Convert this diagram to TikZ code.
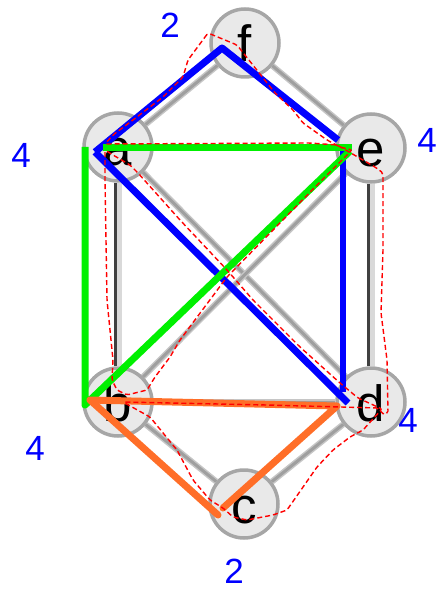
\documentclass[tikz,border=0pt]{standalone}
\usepackage{fontspec}
\setmainfont{Liberation Sans}
\usetikzlibrary{backgrounds}
\definecolor{myorange}{RGB}{255,110,40}
\definecolor{mygreen}{RGB}{0,240,0}
\begin{document}
\begin{tikzpicture}[x=1pt,y=-1pt,
  vtx/.style={circle,draw=gray!70,line width=3.5pt,fill=gray!17,minimum size=68pt,inner sep=0pt,
    text height=38pt,text depth=0pt,font=\fontsize{51}{51}\selectfont},
  edge/.style={draw=gray!45,line width=6pt,postaction={draw=gray!75,line width=3pt}},
  vdark/.style={draw=black!75,line width=3pt},
  vlight/.style={draw=gray!30,line width=5pt},
  deg/.style={text=blue,inner sep=0pt,font=\fontsize{35}{35}\selectfont},
  route/.style={line width=7pt,line join=round},
  tour/.style={red,line width=1.4pt,dash pattern=on 5pt off 3pt,rounded corners=2pt}]
\useasboundingbox (0,0) rectangle (443,593);
% graph
\node[vtx] (f) at (245,43) {f};\node[vtx] (a) at (118,147) {a};\node[vtx] (e) at (371,148) {e};
\node[vtx] (b) at (118,402) {b};\node[vtx] (d) at (371,402) {d};\node[vtx] (c) at (244,504) {c};
\begin{scope}[on background layer]
\foreach \u/\v in {f/a,f/e,a/e,a/d,e/b,b/d,b/c,c/d}{\draw[edge] (\u)--(\v);}
\foreach \u/\v in {a/b,e/d}{\draw[vlight] ([xshift=1.5pt]\u.south)--([xshift=1.5pt]\v.north);
  \draw[vdark] ([xshift=-3pt]\u.south)--([xshift=-3pt]\v.north);}
\end{scope}
% coloured routes
\coordinate (ba) at (95,152);\coordinate (bf) at (222,48);\coordinate (be) at (338,140);
\draw[route,blue] (ba)--(bf)--(be);\draw[route,blue] (ba)--(348,403);
\draw[route,blue,line width=6pt] (343,148)--(343,392);
\coordinate (ga) at (85,147);\coordinate (gb) at (85,405);\coordinate (ge) at (352,148);
\draw[route,mygreen] (103,148)--(ge);\draw[route,mygreen] (ga)--(gb)--(350,151);
\coordinate (ob) at (90,400);\coordinate (od) at (337,406);
\draw[route,myorange,line cap=round] (218,515)--(ob)--(od)--(223,508);
% tour
\draw[tour] (208,33)--(188,60)--(183,77)--(163,97)--(133,120)--(113,135)--(105,144)--(310,143)--(337,145)
 --(375,167)--(383,173)--(383,250)--(381,313)--(387,360)--(388,413)--(384,415)--(378,408)--(267,405)
 --(123,402)--(150,417)--(177,450)--(193,480)--(210,500)--(223,508)--(233,517)--(247,520)--(273,515)
 --(287,510)--(317,467)--(333,450)--(350,437)--(363,430)--(382,409)--(358,398)--(340,383)--(300,347)
 --(253,300)--(227,270)--(180,220)--(138,173)--(130,165)--(113,155)--(105,150)--(105,180)--(107,300)
 --(113,360)--(112,380)--(117,390)--(127,395)--(147,390)--(155,377)--(170,357)--(180,340)--(227,277)
 --(322,180)--(340,162)--(352,150)--(340,147)--(327,140)--(303,123)--(293,110)--(275,93)--(237,45)--cycle;
% degrees
\node[deg] (df) at (170,25) {2};\node[deg] (da) at (21,155) {4};\node[deg] (de) at (427,140) {4};
\node[deg] (db) at (35,448) {4};\node[deg] (dd) at (408,420) {4};\node[deg] (dc) at (234,571) {2};
\end{tikzpicture}
\end{document}
